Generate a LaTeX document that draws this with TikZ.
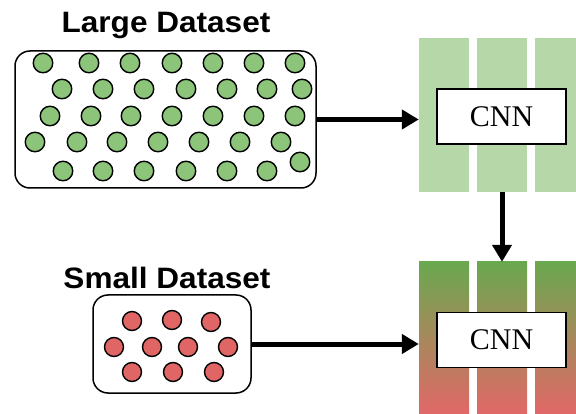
\documentclass[tikz,border=0pt]{standalone}
\usepackage{fontspec}
\newfontfamily\labelfont{Liberation Sans}
\newfontfamily\cnnfont{Liberation Serif}
\usetikzlibrary{arrows.meta}
\definecolor{dotgreen}{RGB}{140,197,122}
\definecolor{dotred}{RGB}{224,102,102}
\definecolor{colgreen}{RGB}{182,215,168}
\definecolor{topgreen}{RGB}{106,168,79}
\definecolor{botred}{RGB}{226,104,104}
\newcommand{\wide}[1]{\scalebox{1.07}[1]{#1}}
\tikzset{
  gdot/.style = {circle, draw, line width=1.4pt, fill=dotgreen, minimum size=19.5pt, inner sep=0pt},
  rdot/.style = {circle, draw, line width=1.4pt, fill=dotred, minimum size=19pt, inner sep=0pt},
  dbox/.style = {draw, line width=1.5pt, rounded corners=15pt, inner sep=0pt},
  col/.style = {inner sep=0pt, minimum width=50pt},
  cnnbox/.style = {draw, line width=1.5pt, fill=white, minimum width=129pt, minimum height=55pt, font=\cnnfont\fontsize{30}{33}\selectfont},
  title/.style = {anchor=base, inner sep=0pt, font=\labelfont\bfseries\fontsize{29.5}{32}\selectfont},
  arr/.style = {line width=5pt, -{Triangle[length=17pt, width=19pt]}}
}
\begin{document}
\begin{tikzpicture}[x=1pt, y=-1pt]
      \useasboundingbox (0,0) rectangle (576,414);

      \node[title] (t1) at (166, 33) {\wide{Large Dataset}};
      \node[title] (t2) at (167, 288) {\wide{Small Dataset}};

      \node[dbox, minimum width=301pt, minimum height=137pt] (large) at (165.5, 119.5) {};
      \node[dbox, minimum width=158pt, minimum height=98pt] (small) at (172, 344) {};

      \foreach \x/\y [count=\i] in {43/63, 89/63, 130/63, 172/63, 213/63, 254/63, 295/63,
                                   62/89, 103/89, 144/89, 186/89, 227/89, 267/89, 302/89,
                                   50/116, 91/116, 131/116, 172/116, 213/116, 254/116, 295/116,
                                   35/142, 77/142, 117/142, 158/142, 199/142, 240/142, 281/142,
                                   63/171, 103/171, 144/171, 186/171, 227/171, 267/171, 300/162}
        \node[gdot] (g\i) at (\x, \y) {};

      \foreach \x/\y [count=\i] in {132/321, 172/320, 211/322,
                                   114/347, 152/347, 188/347, 228/347,
                                   132/372, 173/372, 214/372}
        \node[rdot] (r\i) at (\x, \y) {};

      \node[col, fill=colgreen, minimum height=154pt] (c1) at (444, 115) {};
      \node[col, fill=colgreen, minimum height=154pt] (c2) at (502, 115) {};
      \node[col, fill=colgreen, minimum height=154pt] (c3) at (560, 115) {};
      \node[col, top color=topgreen, bottom color=botred, minimum height=152pt] (d1) at (444, 338) {};
      \node[col, top color=topgreen, bottom color=botred, minimum height=152pt] (d2) at (502, 338) {};
      \node[col, top color=topgreen, bottom color=botred, minimum height=152pt] (d3) at (560, 338) {};

      \node[cnnbox] (cnn1) at (501.5, 116.5) {CNN};
      \node[cnnbox] (cnn2) at (501.5, 340) {CNN};

      \draw[arr] (large.east) -- (large.east -| c1.west);
      \draw[arr] (small.east) -- (small.east -| d1.west);
      \draw[arr] (c2.south) -- (d2.north);
    \end{tikzpicture}
\end{document}
